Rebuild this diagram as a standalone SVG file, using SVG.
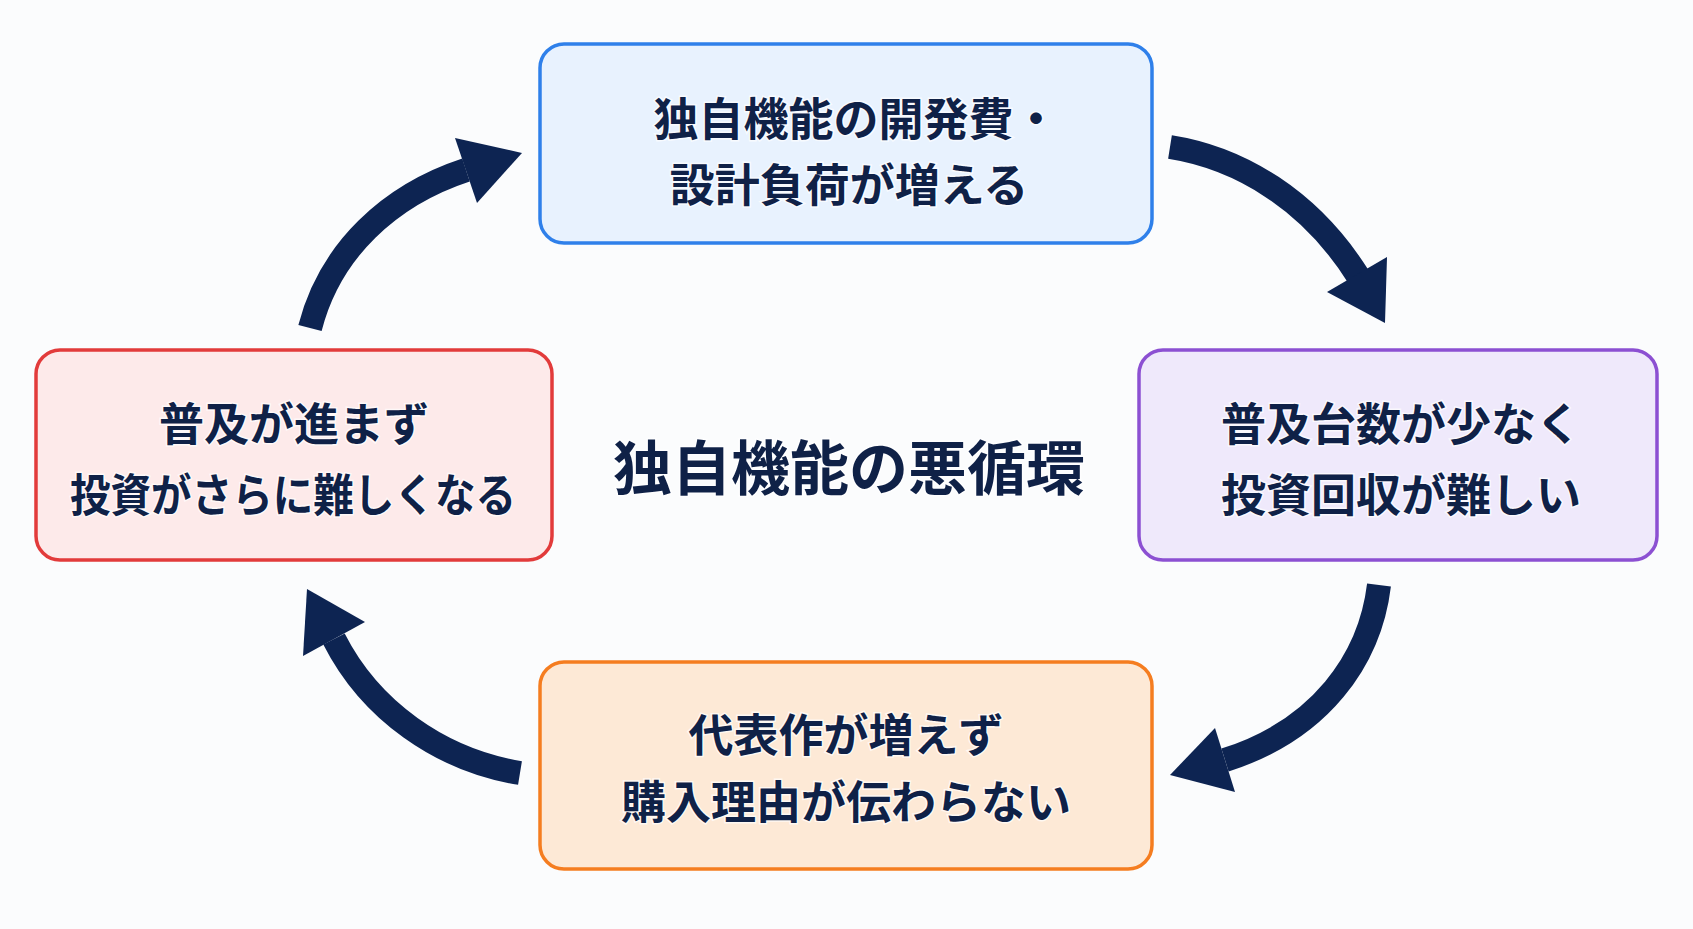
<svg xmlns="http://www.w3.org/2000/svg" width="1693" height="929" viewBox="0 0 1693 929">
<style>
.box{stroke-width:3.5}
.lbl{font-family:"Noto Sans CJK JP","Noto Sans",sans-serif;font-weight:700;font-size:45px;fill:#0f2147;text-anchor:middle;dominant-baseline:central;stroke:#ffffff;stroke-width:3;stroke-opacity:0.7;paint-order:stroke}
.title{font-size:59px}
.shaft{fill:none;stroke:#0d2452;stroke-width:24;stroke-linecap:butt}
.head{fill:#0d2452}
</style>
<rect width="1693" height="929" fill="#fbfcfd"/>
<g id="node-top">
<rect class="box" x="540" y="44" width="612" height="199" rx="24" fill="#e8f2fe" stroke="#2f80ea"/>
<text class="lbl" x="856" y="116">独自機能の開発費・</text>
<text class="lbl" x="849" y="182">設計負荷が増える</text>
</g>
<g id="node-right">
<rect class="box" x="1139" y="350" width="518" height="210" rx="24" fill="#efe9fb" stroke="#8c50d2"/>
<text class="lbl" x="1401" y="421">普及台数が少なく</text>
<text class="lbl" x="1401" y="492">投資回収が難しい</text>
</g>
<g id="node-bottom">
<rect class="box" x="540" y="662" width="612" height="207" rx="24" fill="#fde9d6" stroke="#f57d20"/>
<text class="lbl" x="846" y="732">代表作が増えず</text>
<text class="lbl" x="846" y="799">購入理由が伝わらない</text>
</g>
<g id="node-left">
<rect class="box" x="36" y="350" width="516" height="210" rx="24" fill="#fdeaea" stroke="#e23b3b"/>
<text class="lbl" x="294" y="421">普及が進まず</text>
<text class="lbl" x="293" y="492" textLength="446" lengthAdjust="spacingAndGlyphs">投資がさらに難しくなる</text>
</g>
<g id="title">
<text class="lbl title" x="849" y="464">独自機能の悪循環</text>
</g>
<g id="connectors">
<path class="shaft" d="M1170,147 C1240,158 1310,200 1358,276"/>
<polygon class="head" points="1327,292 1387,257 1385,323"/>
<path class="shaft" d="M1379,585 C1370,660 1320,730 1225,760"/>
<polygon class="head" points="1215,728 1235,792 1170,775"/>
<path class="shaft" d="M520,773 C440,760 370,710 334,639"/>
<polygon class="head" points="303,656 365,622 307,589"/>
<path class="shaft" d="M310,328 C330,250 390,195 466,170"/>
<polygon class="head" points="455,138 477,203 522,153"/>
</g>
</svg>
